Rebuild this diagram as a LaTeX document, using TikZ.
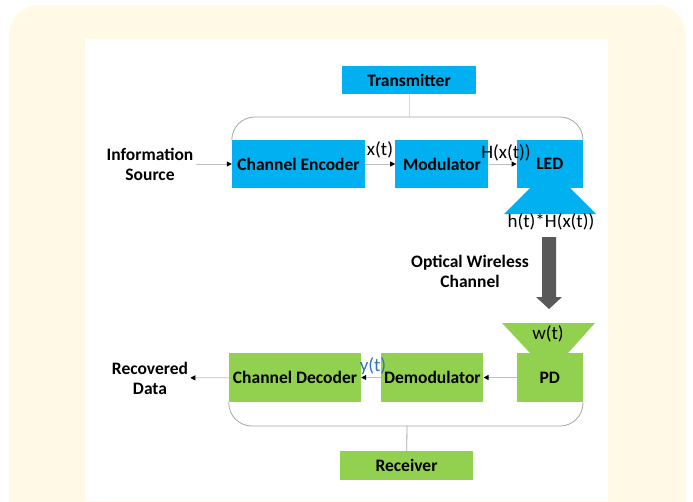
\documentclass[tikz,border=0pt]{standalone}
\usepackage{fontspec}
\setmainfont{Carlito}
\usetikzlibrary{positioning,arrows.meta}
\definecolor{txblue}{HTML}{00B0F0}
\definecolor{rxgreen}{HTML}{92D050}
\definecolor{cream}{HTML}{FFF9E6}
\definecolor{linegray}{HTML}{BFBFBF}
\definecolor{bargray}{HTML}{A6A6A6}
\definecolor{beamgray}{HTML}{595959}
\definecolor{sigblue}{HTML}{2E74B5}
\tikzset{
	>={Triangle[length=5pt,width=5pt,color=black]}, % small black heads on grey lines
	every node/.style={font=\fontsize{17.5}{20}\selectfont\bfseries}, % Calibri-like bold labels
}

\begin{document}
\begin{tikzpicture}[x=1pt,y=-1pt,
	txbox/.style={rectangle, fill=txblue, minimum height=48pt, inner sep=0pt},
	rxbox/.style={rectangle, fill=rxgreen, minimum height=49pt, inner sep=0pt},
	siglabel/.style={font=\fontsize{19}{20}\selectfont, inner sep=0pt},
	sidetext/.style={align=center, inner sep=2pt},
	link/.style={->, draw=linegray, thick},
	bracket/.style={draw=bargray, thick, rounded corners=23pt},
	]
	%Background
	\useasboundingbox (0,0) rectangle (693,501);
	\clip (0,0) rectangle (693,501);
	\fill[cream, rounded corners=30pt] (9,5) rectangle (686,560);
	\fill[white] (85,39) rectangle (608,501);

	%Nodes
	\node[txbox, minimum width=134pt, minimum height=28pt] (trans) at (409,80) {Transmitter};
	\node[txbox, minimum width=133pt] (enc) at (298.5,164) {Channel Encoder};
	\node[txbox, minimum width=93pt] (mod) [right=30pt of enc] {Modulator};
	\node[txbox, minimum width=66pt] (led) [right=28pt of mod] {LED};
	\node[sidetext] (info) at (150,164) {Information\\Source};

	\node[rxbox, minimum width=132pt] (dec) at (295,377.5) {Channel Decoder};
	\node[rxbox, minimum width=102pt] (demod) [right=20pt of dec] {Demodulator};
	\node[rxbox, minimum width=66pt] (pd) [right=33pt of demod] {PD};
	\node[rxbox, minimum width=133pt, minimum height=29pt] (rec) at (406.5,465.5) {Receiver};
	\node[sidetext] (recov) at (150,378) {Recovered\\Data};
	\node[sidetext] (owc) at (470,271) {Optical Wireless\\Channel};

	%Emitter, detector and beam
	\fill[txblue] (530,188) -- (570,188) -- (596,214) -- (504,214) -- cycle;
	\fill[rxgreen] (502,323) -- (595,323) -- (568,353) -- (530,353) -- cycle;
	\fill[beamgray] (542,237) -- (556,237) -- (556,297) -- (562,297) -- (549,309) -- (536,297) -- (542,297) -- cycle;

	%Signals
	\node[siglabel] (xt) at (380,150) {x(t)};
	\node[siglabel] (hxt) at (506,153) {H(x(t))};
	\node[siglabel] (conv) at (551,222) {h(t)*H(x(t))};
	\node[siglabel] (wt) at (548,334) {w(t)};
	\node[siglabel, text=sigblue] (yt) at (373,366) {y(t)};

	%Lines
	\coordinate (tbar) at (409,117);
	\coordinate (rbar) at (407,426);
	\draw[link] (info) -- (enc);
	\draw[link] (enc) -- (mod);
	\draw[link] (mod) -- (led);
	\draw[link] (pd) -- (demod);
	\draw[link] (demod) -- (dec);
	\draw[link] (dec) -- (recov);
	\draw[draw=linegray!60] (trans) -- (tbar);
	\draw[bracket] (enc.north west) |- (tbar) -| (led.north east);
	\draw[bracket] (dec.south west) |- (rbar) -| (pd.south east);
	\draw[draw=bargray, thick] (rbar) -- (rec);
\end{tikzpicture}
\end{document}
